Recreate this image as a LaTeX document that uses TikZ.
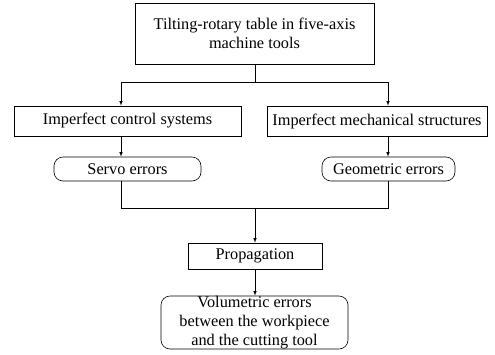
\documentclass[tikz,border=0pt]{standalone}
\usepackage{fontspec}
\setmainfont{Liberation Serif}
\usetikzlibrary{positioning,arrows}

\begin{document}
\begin{tikzpicture}[>=latex,x=1pt,y=-1pt,line width=.6pt,text centered]
\useasboundingbox (0,0) rectangle (495,354);
\tikzstyle{every node}=[draw,inner sep=0pt,align=center,
font=\fontsize{16.3}{19}\selectfont]
\draw (254.5,33.5) node[minimum width=239pt,minimum height=61pt] (table) {Tilting-rotary table in five-axis\\machine tools};
\draw (127.5,121) node[minimum width=227pt,minimum height=30pt] (control) {Imperfect control systems};
\draw (377,121) node[minimum width=220pt,minimum height=30pt] (mech) {Imperfect mechanical structures};
\draw (255,256) node[minimum width=134pt,minimum height=26pt] (prop) {Propagation};

\tikzstyle{every node}=[draw,rounded corners=9pt,inner sep=0pt,align=center,
font=\fontsize{16.3}{19}\selectfont]
\draw (127.5,169) node[minimum width=147pt,minimum height=24pt] (servo) {Servo errors};
\draw (388.5,169) node[minimum width=133pt,minimum height=24pt] (geom) {Geometric errors};
\draw (254.5,322.5) node[minimum width=187pt,minimum height=53pt] (vol) {Volumetric errors\\between the workpiece\\and the cutting tool};

% joints
\coordinate (split) at (255,82);
\coordinate (merge) at (255,208);

\draw (table.south -| split) -- (split);
\draw[->] (split) -| ([xshift=-6.5pt]control.north);
\draw[->] (split) -| ([xshift=11pt]mech.north);
\draw[->] ([xshift=-6.5pt]control.south) -- ([xshift=-6.5pt]servo.north);
\draw[->] ([xshift=11pt]mech.south) -- ([xshift=-0.5pt]geom.north);
\draw ([xshift=-6.5pt]servo.south) |- (merge);
\draw ([xshift=-0.5pt]geom.south) |- (merge);
\draw[->] (merge) -- (prop.north -| merge);
\draw[->] (prop.south -| merge) -- (vol.north -| merge);

\end{tikzpicture}
\end{document}
